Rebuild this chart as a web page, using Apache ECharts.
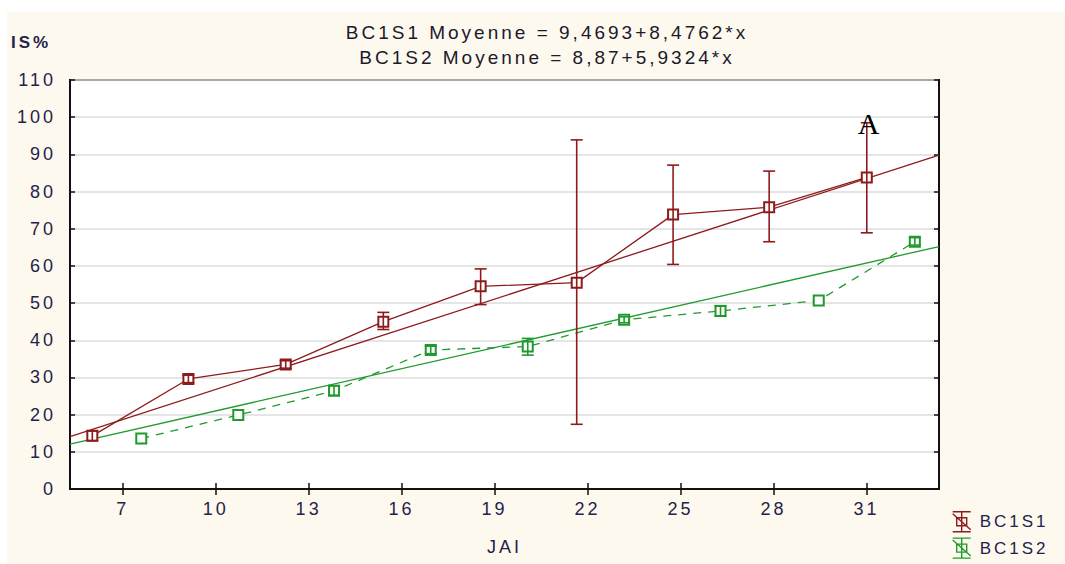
<!DOCTYPE html>
<html>
<head>
<meta charset="utf-8">
<script src="https://cdn.jsdelivr.net/npm/echarts@6/dist/echarts.min.js"></script>
<style>
  html, body { margin: 0; padding: 0; background: #ffffff; }
  #main { width: 1065px; height: 564px; }
  #main text { letter-spacing: 3px; }
</style>
</head>
<body>
<div id="main"></div>
<script>
// ---- data ----
const titleLines = ['BC1S1 Moyenne = 9,4693+8,4762*x', 'BC1S2 Moyenne = 8,87+5,9324*x'];
const xTicks = [7, 10, 13, 16, 19, 22, 25, 28, 31];
const xRange = [5.3, 33.34];

const s1Name = 'BC1S1';
const s1X  = [6.02, 9.12, 12.26, 15.41, 18.55, 21.65, 24.76, 27.86, 31.01];
const s1Y  = [14.3, 29.6, 33.5, 45.0, 54.5, 55.5, 73.8, 75.8, 83.8];
const s1Lo = [13.0, 28.6, 32.5, 42.9, 49.6, 17.4, 60.4, 66.5, 68.9];
const s1Hi = [15.6, 30.6, 34.5, 47.5, 59.2, 93.9, 87.1, 85.5, 98.5];
const s1FitY = [14.1, 89.8];   // fitted line values at the two axis ends

const s2Name = 'BC1S2';
const s2X  = [7.60, 10.73, 13.82, 16.94, 20.07, 23.18, 26.29, 29.46, 32.56];
const s2Y  = [13.6, 19.9, 26.4, 37.4, 38.3, 45.5, 47.9, 50.7, 66.5];
const s2Lo = [13.6, 19.9, 25.2, 36.4, 36.0, 44.7, 46.5, 50.7, 65.6];
const s2Hi = [13.6, 19.9, 27.8, 38.4, 40.5, 46.3, 49.3, 50.7, 67.6];
const s2FitY = [12.1, 65.2];

const RED = '#8E1B1B';
const GREEN = '#1F9A2E';
const TXT = '#23234a';

function pts(xs, ys) { return xs.map((x, i) => [x, ys[i]]); }
function errs(xs, lo, hi) { return xs.map((x, i) => [x, lo[i], hi[i]]); }

function errorSeries(name, data, color) {
  return {
    type: 'custom',
    name: name + ' err',
    data: data,
    z: 5,
    silent: true,
    encode: { x: 0, y: [1, 2] },
    renderItem: function (params, api) {
      const x = api.value(0), lo = api.value(1), hi = api.value(2);
      if (hi - lo <= 0) return null;
      const pLo = api.coord([x, lo]);
      const pHi = api.coord([x, hi]);
      const w = 6;
      const st = { stroke: color, lineWidth: 1.6, fill: null };
      return {
        type: 'group',
        children: [
          { type: 'line', shape: { x1: pLo[0], y1: pLo[1], x2: pHi[0], y2: pHi[1] }, style: st },
          { type: 'line', shape: { x1: pLo[0] - w, y1: pLo[1], x2: pLo[0] + w, y2: pLo[1] }, style: st },
          { type: 'line', shape: { x1: pHi[0] - w, y1: pHi[1], x2: pHi[0] + w, y2: pHi[1] }, style: st }
        ]
      };
    }
  };
}

const legendIcon = 'path://M0,0H18M9,0V20M0,20H18M4,6H14V14H4ZM0,2L18,18';

const chart = echarts.init(document.getElementById('main'), null, { renderer: 'svg' });
chart.setOption({
  animation: false,
  backgroundColor: '#ffffff',
  textStyle: { fontFamily: 'Liberation Sans, Arial, sans-serif' },
  graphic: [
    { type: 'rect', z: -100, shape: { x: 7, y: 12, width: 1058, height: 552 }, style: { fill: '#FEF9EE' } },
    { type: 'text', z: 100, style: { x: 11, y: 42, text: 'IS%', fontSize: 17, fontWeight: 'bold', fill: TXT, textVerticalAlign: 'middle', fontFamily: 'Liberation Sans, Arial, sans-serif' } },
    { type: 'text', z: 100, style: { x: 870, y: 123, text: 'A', fontSize: 30, fill: '#000000', textAlign: 'center', textVerticalAlign: 'middle', fontFamily: 'Liberation Serif, Times New Roman, serif' } }
  ],
  title: {
    text: titleLines.join('\n'),
    left: 542,
    top: 15,
    textAlign: 'center',
    textStyle: { fontSize: 19, fontWeight: 'normal', color: '#1a1a2a', lineHeight: 25, fontFamily: 'Liberation Sans, Arial, sans-serif' }
  },
  legend: {
    orient: 'vertical',
    left: 952,
    top: 511,
    height: 50,
    padding: 0,
    itemWidth: 18,
    itemHeight: 20,
    itemGap: 5,
    textStyle: { fontSize: 17, color: TXT, padding: [0, 0, 0, 4] },
    data: [
      { name: s1Name, icon: legendIcon, itemStyle: { color: 'transparent', borderColor: RED, borderWidth: 1.4 } },
      { name: s2Name, icon: legendIcon, itemStyle: { color: 'transparent', borderColor: GREEN, borderWidth: 1.4 } }
    ]
  },
  grid: {
    left: 70, right: 126, top: 80, bottom: 75,
    show: true, backgroundColor: '#ffffff', borderColor: '#111111', borderWidth: 2
  },
  xAxis: [
    {
      type: 'value', min: xRange[0], max: xRange[1], position: 'bottom',
      name: 'JAI', nameLocation: 'middle', nameGap: 49,
      nameTextStyle: { fontSize: 18, color: TXT },
      axisLine: { show: true, lineStyle: { color: '#111111', width: 2 } },
      axisTick: { show: true, inside: true, length: 6, customValues: xTicks, lineStyle: { color: '#111111', width: 1.5 } },
      axisLabel: { show: true, customValues: xTicks, margin: 11, fontSize: 18, color: TXT },
      splitLine: { show: false }
    },
    {
      type: 'value', min: xRange[0], max: xRange[1], position: 'top',
      axisLine: { show: true, lineStyle: { color: '#111111', width: 2 } },
      axisTick: { show: true, inside: true, length: 6, customValues: xTicks, lineStyle: { color: '#111111', width: 1.5 } },
      axisLabel: { show: false },
      splitLine: { show: false }
    }
  ],
  yAxis: [
    {
      type: 'value', min: 0, max: 110, interval: 10, position: 'left',
      axisLine: { show: true, lineStyle: { color: '#111111', width: 2 } },
      axisTick: { show: true, inside: true, length: 5, lineStyle: { color: '#111111', width: 1.5 } },
      axisLabel: { margin: 14, fontSize: 18, color: TXT },
      splitLine: { show: true, lineStyle: { color: '#dcdcdc', width: 1.5 } }
    },
    {
      type: 'value', min: 0, max: 110, interval: 10, position: 'right',
      axisLine: { show: true, lineStyle: { color: '#111111', width: 2 } },
      axisTick: { show: true, inside: true, length: 5, lineStyle: { color: '#111111', width: 1.5 } },
      axisLabel: { show: false },
      splitLine: { show: false }
    }
  ],
  series: [
    {
      type: 'line', name: s1Name + ' fit', data: [[xRange[0], s1FitY[0]], [xRange[1], s1FitY[1]]],
      symbol: 'none', lineStyle: { color: RED, width: 1.3 }, z: 2, silent: true
    },
    {
      type: 'line', name: s2Name + ' fit', data: [[xRange[0], s2FitY[0]], [xRange[1], s2FitY[1]]],
      symbol: 'none', lineStyle: { color: GREEN, width: 1.3 }, z: 2, silent: true
    },
    {
      type: 'line', name: s1Name, data: pts(s1X, s1Y),
      symbol: 'emptyRect', symbolSize: 10,
      itemStyle: { color: RED, borderColor: RED, borderWidth: 1.6 },
      lineStyle: { color: RED, width: 1.3 }, z: 3
    },
    {
      type: 'line', name: s2Name, data: pts(s2X, s2Y),
      symbol: 'emptyRect', symbolSize: 10,
      itemStyle: { color: GREEN, borderColor: GREEN, borderWidth: 1.6 },
      lineStyle: { color: GREEN, width: 1.3, type: [8, 7] }, z: 3
    },
    errorSeries(s1Name, errs(s1X, s1Lo, s1Hi), RED),
    errorSeries(s2Name, errs(s2X, s2Lo, s2Hi), GREEN)
  ]
});
</script>
</body>
</html>
